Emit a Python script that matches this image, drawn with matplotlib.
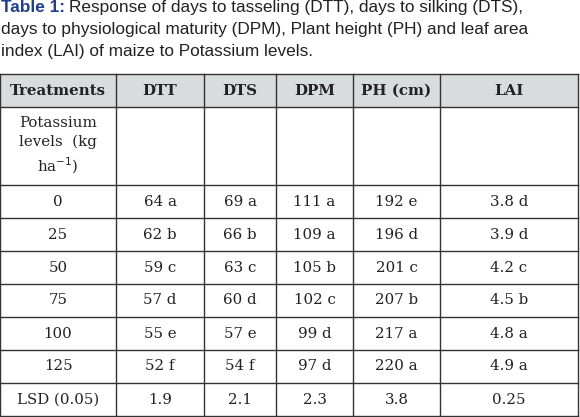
import matplotlib.pyplot as plt
from matplotlib.patches import Rectangle

W, H = 580, 417

columns = ["Treatments", "DTT", "DTS", "DPM", "PH (cm)", "LAI"]
levels = ["0", "25", "50", "75", "100", "125", "LSD (0.05)"]
dtt = ["64 a", "62 b", "59 c", "57 d", "55 e", "52 f", "1.9"]
dts = ["69 a", "66 b", "63 c", "60 d", "57 e", "54 f", "2.1"]
dpm = ["111 a", "109 a", "105 b", "102 c", "99 d", "97 d", "2.3"]
ph = ["192 e", "196 d", "201 c", "207 b", "217 a", "220 a", "3.8"]
lai = ["3.8 d", "3.9 d", "4.2 c", "4.5 b", "4.8 a", "4.9 a", "0.25"]

col_x = [0, 116, 204, 276, 353, 440, 578]
row_y = [74, 107, 185, 218, 251, 284, 317, 350, 383, 416]

fig = plt.figure(figsize=(W / 100, H / 100), dpi=100)
ax = fig.add_axes([0, 0, 1, 1])
ax.set_xlim(0, W)
ax.set_ylim(H, 0)
ax.axis("off")

# caption
cap = dict(fontsize=12.4, family="Liberation Sans", color="#222222", va="top")
ax.text(1, 0, "Table 1:", color="#1f3f8f", fontsize=12.4, fontweight="bold",
        family="Liberation Sans", va="top")
ax.text(69, 0, "Response of days to tasseling (DTT), days to silking (DTS),", **cap)
ax.text(1, 22, "days to physiological maturity (DPM), Plant height (PH) and leaf area", **cap)
ax.text(1, 44, "index (LAI) of maize to Potassium levels.", **cap)

# header background
ax.add_patch(Rectangle((col_x[0], row_y[0]), col_x[-1] - col_x[0], row_y[1] - row_y[0],
                       facecolor="#d8dcdc", edgecolor="none"))

for x in col_x:
    ax.plot([x, x], [row_y[0], row_y[-1]], color="#333333", lw=1)
for y in row_y:
    ax.plot([col_x[0], col_x[-1]], [y, y], color="#333333", lw=1)

tf = dict(family="DejaVu Serif", fontsize=10.8, color="#222222", ha="center", va="center")
for i, c in enumerate(columns):
    ax.text((col_x[i] + col_x[i + 1]) / 2, (row_y[0] + row_y[1]) / 2, c,
            fontweight="bold", **tf)

ax.text((col_x[0] + col_x[1]) / 2, (row_y[1] + row_y[2]) / 2,
        "Potassium\nlevels  (kg\nha$^{-1}$)", linespacing=1.4, **tf)

cols = [levels, dtt, dts, dpm, ph, lai]
for r in range(len(levels)):
    yc = (row_y[r + 2] + row_y[r + 3]) / 2
    for i, vals in enumerate(cols):
        ax.text((col_x[i] + col_x[i + 1]) / 2, yc, vals[r], **tf)

fig.savefig("out.png", dpi=100)
